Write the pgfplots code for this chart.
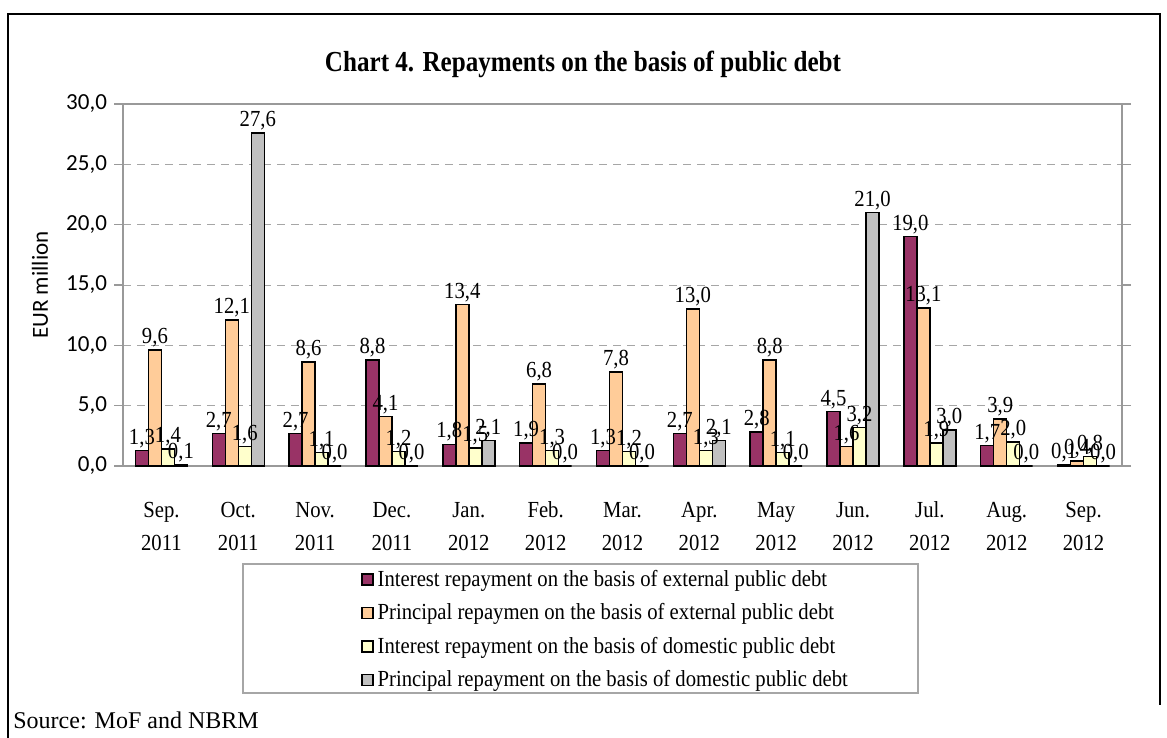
\documentclass[border=0pt]{standalone}
\usepackage{pgfplots}
\pgfplotsset{compat=1.18}
\usepackage{fontspec}
\usepackage{graphicx}
\setmainfont{Liberation Serif}[FakeStretch=0.9]
\newfontfamily\srcfont{Liberation Serif}
\newfontfamily\calibri{Carlito}
\definecolor{cA}{HTML}{993366}
\definecolor{cB}{HTML}{FFCC99}
\definecolor{cC}{HTML}{FFFFCC}
\definecolor{cD}{HTML}{C0C0C0}
\newcommand{\tl}[2]{\strut #1\\\strut #2}
\begin{document}
\begin{tikzpicture}
\path[use as bounding box] (0,0) rectangle (583.5pt,-369pt);
\draw[black, line width=0.9pt] (4pt,-369pt) -- (4pt,-7pt) -- (580pt,-7pt) -- (580pt,-352.5pt);
\node[font=\bfseries\fontsize{14.5}{16}\selectfont] at (291.5pt,-32pt) {\resizebox{258pt}{\height}{Chart 4. Repayments on the basis of public debt}};
\node[rotate=90, font=\calibri\fontsize{11.5}{13}\selectfont] at (20pt,-142.5pt) {EUR million};
\draw[gray!70, line width=0.6pt] (121.5pt,-282pt) rectangle (459pt,-346.5pt);
\node[anchor=west, inner sep=0pt, font=\srcfont\fontsize{12}{14}\selectfont] at (6.5pt,-360pt) {Source: MoF and NBRM};
\begin{axis}[
  at={(61.5pt,-233pt)}, anchor=south west,
  scale only axis, width=499.5pt, height=181pt,
  ybar=0pt, bar width=6.5pt,
  xmin=-0.5, xmax=12.5, ymin=0, ymax=30,
  xtick={0,...,12},
  xticklabels={{\tl{Sep.}{2011}},{\tl{Oct.}{2011}},{\tl{Nov.}{2011}},{\tl{Dec.}{2011}},{\tl{Jan.}{2012}},{\tl{Feb.}{2012}},{\tl{Mar.}{2012}},{\tl{Apr.}{2012}},{\tl{May}{2012}},{\tl{Jun.}{2012}},{\tl{Jul.}{2012}},{\tl{Aug.}{2012}},{\tl{Sep.}{2012}}},
  x tick label style={align=center, font=\fontsize{11.5}{16.5}\selectfont, yshift=-6pt},
  x tick style={draw=none},
  extra x ticks={-0.5,0.5,...,12.5},
  extra x tick labels={},
  extra x tick style={major tick length=5pt, tick style={gray!80, line width=0.6pt}, tick align=outside, grid=none},
  ytick={0,5,...,30},
  y tick label style={font=\calibri\fontsize{11.5}{13}\selectfont, /pgf/number format/.cd, fixed, fixed zerofill, precision=1, use comma},
  /pgf/number format/assume math mode=true,
  y tick style={gray!80, line width=0.6pt},
  major tick length=4.5pt, tick align=outside,
  ymajorgrids, major grid style={gray!70, dash pattern=on 4pt off 3pt, line width=0.5pt},
  axis line style={gray!80, line width=0.8pt},
  every axis plot/.append style={draw=black, line width=0.75pt},
  nodes near coords={\pgfmathprintnumber[fixed, fixed zerofill, precision=1, use comma]{\pgfplotspointmeta}},
  nodes near coords style={font=\fontsize{11.5}{13}\selectfont, inner sep=1pt, /pgf/number format/assume math mode=true},
  clip=false,
  legend style={at={(0.238,-0.275)}, anchor=north west, draw=none, fill=none,
    font=\fontsize{11.5}{13}\selectfont, row sep=3.2pt, inner sep=0pt,
    /tikz/every even column/.append style={column sep=0pt}},
  legend cell align=left,
  legend image code/.code={\draw[#1, line width=0.75pt] (0pt,-2.6pt) rectangle (5.5pt,2.9pt);},
]
\addplot[fill=cA] coordinates {(0,1.3) (1,2.7) (2,2.7) (3,8.8) (4,1.8) (5,1.9) (6,1.3) (7,2.7) (8,2.8) (9,4.5) (10,19.0) (11,1.7) (12,0.1)};
\addplot[fill=cB] coordinates {(0,9.6) (1,12.1) (2,8.6) (3,4.1) (4,13.4) (5,6.8) (6,7.8) (7,13.0) (8,8.8) (9,1.6) (10,13.1) (11,3.9) (12,0.4)};
\addplot[fill=cC] coordinates {(0,1.4) (1,1.6) (2,1.1) (3,1.2) (4,1.5) (5,1.3) (6,1.2) (7,1.3) (8,1.1) (9,3.2) (10,1.9) (11,2.0) (12,0.8)};
\addplot[fill=cD] coordinates {(0,0.1) (1,27.6) (2,0.0) (3,0.0) (4,2.1) (5,0.0) (6,0.0) (7,2.1) (8,0.0) (9,21.0) (10,3.0) (11,0.0) (12,0.0)};
\legend{Interest repayment on the basis of external public debt,
Principal repaymen on the basis of external public debt,
Interest repayment on the basis of domestic public debt,
Principal repayment on the basis of domestic public debt}
\end{axis}
\end{tikzpicture}
\end{document}
